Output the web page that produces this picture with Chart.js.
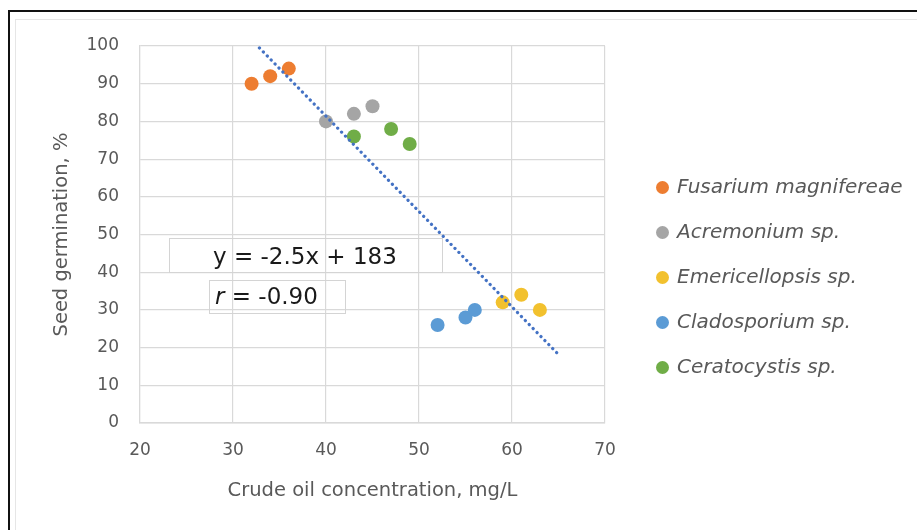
<!DOCTYPE html>
<html>
<head>
<meta charset="utf-8">
<script src="https://cdn.jsdelivr.net/npm/chart.js@4.4.1/dist/chart.umd.min.js"></script>
<style>
  html, body { margin: 0; padding: 0; background: #ffffff; }
  #wrap { position: relative; width: 917px; height: 530px; overflow: hidden; background: #fff; }
  #frame { position: absolute; left: 8px; top: 10px; width: 1000px; height: 600px;
           border-left: 2.5px solid #111; border-top: 2.5px solid #111; box-sizing: border-box; }
  #inner { position: absolute; left: 15px; top: 19px; width: 1000px; height: 600px;
           border-left: 1.5px solid #e6e6e6; border-top: 1.5px solid #e6e6e6; box-sizing: border-box; }
  #chart { position: absolute; left: 0; top: 0; }
  .box { position: absolute; border: 1.5px solid #d4d4d4; box-sizing: border-box;
         font-family: "DejaVu Sans", sans-serif; font-size: 23px; color: #1a1a1a; white-space: nowrap; }
  #legend { position: absolute; left: 655px; top: 0; font-family: "DejaVu Sans", sans-serif;
            font-style: italic; font-size: 20px; color: #595959; }
  .li { position: absolute; white-space: nowrap; }
  .dot { position: absolute; width: 13px; height: 13px; border-radius: 50%; }
</style>
</head>
<body>
<div id="wrap">
  <div id="frame"></div>
  <div id="inner"></div>
  <canvas id="chart" width="917" height="530"></canvas>
  <div id="legend"></div>
  <div class="box" id="eqBox"></div>
  <div class="box" id="rBox"></div>
</div>
<script>
// ---- data ----
const seriesNames = ["Fusarium magnifereae", "Acremonium sp.", "Emericellopsis sp.", "Cladosporium sp.", "Ceratocystis sp."];
const seriesColors = ["#ED7D31", "#A5A5A5", "#F2C12E", "#5B9BD5", "#70AD47"];
const fusariumX = [32, 34, 36];
const fusariumY = [90, 92, 94];
const acremoniumX = [40, 43, 45];
const acremoniumY = [80, 82, 84];
const emericellopsisX = [59, 61, 63];
const emericellopsisY = [32, 34, 30];
const cladosporiumX = [52, 55, 56];
const cladosporiumY = [26, 28, 30];
const ceratocystisX = [43, 47, 49];
const ceratocystisY = [76, 78, 74];
const xTicks = [20, 30, 40, 50, 60, 70];
const yTicks = [0, 10, 20, 30, 40, 50, 60, 70, 80, 90, 100];
const trendForwardTo = 65;   // trendline extends forward to this x
const equationText = "y = -2.5x + 183";
const rText = "= -0.90";
const xTitle = "Crude oil concentration, mg/L";
const yTitle = "Seed germination, %";

const allX = [fusariumX, acremoniumX, emericellopsisX, cladosporiumX, ceratocystisX];
const allY = [fusariumY, acremoniumY, emericellopsisY, cladosporiumY, ceratocystisY];

// linear least-squares trendline over all points (as the spreadsheet did)
const px = allX.flat(), py = allY.flat();
const mx = px.reduce((a, b) => a + b, 0) / px.length;
const my = py.reduce((a, b) => a + b, 0) / py.length;
let sxy = 0, sxx = 0;
px.forEach((x, i) => { sxy += (x - mx) * (py[i] - my); sxx += (x - mx) * (x - mx); });
const slope = sxy / sxx, intercept = my - slope * mx;
const tx0 = Math.min(...px);
const trendData = [{ x: tx0, y: slope * tx0 + intercept }, { x: trendForwardTo, y: slope * trendForwardTo + intercept }];

const AREA = { left: 140, right: 605, top: 46, bottom: 423 };
const GRID = "#D9D9D9", TXT = "#595959";

const datasets = [{
  label: "Trend",
  data: trendData,
  showLine: true,
  borderColor: "#4472C4",
  borderWidth: 3.2,
  borderDash: [0.1, 5.5],
  borderCapStyle: "round",
  pointRadius: 0,
  fill: false,
  order: -1
}];
seriesNames.forEach((name, s) => {
  datasets.push({
    label: name,
    data: allX[s].map((x, i) => ({ x: x, y: allY[s][i] })),
    backgroundColor: seriesColors[s],
    borderColor: seriesColors[s],
    borderWidth: 0,
    pointRadius: 7,
    pointHoverRadius: 7
  });
});

new Chart(document.getElementById("chart"), {
  type: "scatter",
  data: { datasets: datasets },
  options: {
    responsive: false,
    animation: false,
    events: [],
    layout: { padding: { left: 0, top: AREA.top, right: 917 - AREA.right, bottom: 0 } },
    plugins: { legend: { display: false }, tooltip: { enabled: false }, title: { display: false } },
    scales: {
      x: {
        type: "linear", min: 20, max: 70,
        afterBuildTicks: (ax) => { ax.ticks = xTicks.map(v => ({ value: v })); },
        afterFit: (ax) => { ax.height = 530 - AREA.bottom; },
        grid: { color: GRID, lineWidth: 1.2, drawTicks: false },
        border: { color: GRID, width: 1.5 },
        ticks: { color: TXT, padding: 17, font: { family: "DejaVu Sans", size: 17 } },
        title: { display: true, text: xTitle, color: TXT, padding: { top: 0, bottom: 27 },
                 font: { family: "DejaVu Sans", size: 19.5 } }
      },
      y: {
        type: "linear", min: 0, max: 100,
        afterBuildTicks: (ax) => { ax.ticks = yTicks.map(v => ({ value: v })); },
        afterFit: (ax) => { ax.width = AREA.left; },
        grid: { color: GRID, lineWidth: 1.2, drawTicks: false },
        border: { color: GRID, width: 1.2 },
        ticks: { color: TXT, padding: 21, font: { family: "DejaVu Sans", size: 17 } },
        title: { display: true, text: yTitle, color: TXT, padding: { top: 50, bottom: 0 },
                 font: { family: "DejaVu Sans", size: 19.5 } }
      }
    }
  }
});

// legend (HTML, built from the series arrays)
const legend = document.getElementById("legend");
const legendRowY = [187, 232, 277, 322, 367];
seriesNames.forEach((name, s) => {
  const dot = document.createElement("div");
  dot.className = "dot";
  dot.style.background = seriesColors[s];
  dot.style.left = "1px";
  dot.style.top = (legendRowY[s] - 6.5) + "px";
  legend.appendChild(dot);
  const t = document.createElement("div");
  t.className = "li";
  t.textContent = name;
  t.style.left = "22px";
  t.style.top = (legendRowY[s] - 13) + "px";
  legend.appendChild(t);
});

// equation / correlation text boxes
const eq = document.getElementById("eqBox");
Object.assign(eq.style, { left: "169px", top: "238px", width: "274px", height: "35px" });
eq.innerHTML = '<span style="position:absolute;left:43px;top:4px">' + equationText + '</span>';
const rb = document.getElementById("rBox");
Object.assign(rb.style, { left: "209px", top: "280px", width: "137px", height: "34px" });
rb.innerHTML = '<span style="position:absolute;left:5px;top:2px"><i>r</i> ' + rText + '</span>';
</script>
</body>
</html>
